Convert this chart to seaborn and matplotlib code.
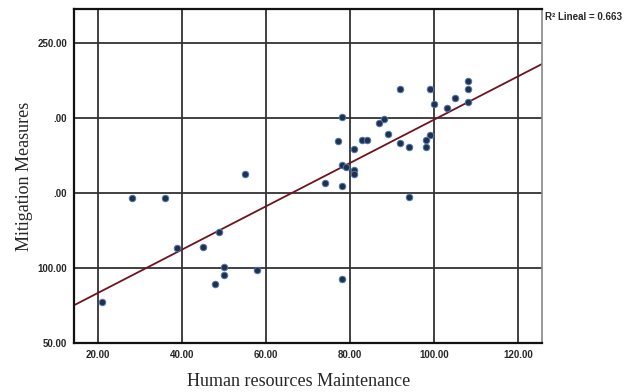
import numpy as np
import pandas as pd
import matplotlib
matplotlib.use("Agg")
import matplotlib.pyplot as plt
import seaborn as sns

# values
human_resources = [21.0, 28.1, 36.0, 39.0, 45.0, 49.0, 50.1, 50.1, 48.0, 58.0,
                   55.1, 92.0, 99.0, 108.2, 108.2, 105.1, 100.1, 103.1, 108.2,
                   78.1, 88.1, 87.0, 89.1, 77.1, 83.0, 84.1, 92.0, 99.0, 98.0,
                   94.0, 98.0, 81.1, 78.1, 79.1, 81.1, 81.1, 74.0, 78.1, 94.0,
                   78.1]
mitigation = [77.5, 146.7, 146.7, 113.5, 114.4, 124.4, 100.7, 95.5, 89.5, 98.7,
              162.7, 219.5, 219.5, 224.4, 219.5, 213.5, 209.3, 206.4, 210.7,
              200.4, 199.5, 196.4, 189.5, 184.4, 185.5, 185.5, 183.3, 188.7, 185.5,
              180.4, 180.4, 179.5, 168.7, 167.3, 165.5, 162.7, 156.4, 154.7, 147.3,
              92.7]

x_ticks = [20, 40, 60, 80, 100, 120]
x_labels = ["20.00", "40.00", "60.00", "80.00", "100.00", "120.00"]
y_ticks = [50, 100, 150, 200, 250]
y_labels = ["50.00", "100.00", ".00", ".00", "250.00"]

df = pd.DataFrame({"hr": human_resources, "mm": mitigation})

sns.set_style("white")
plt.rcParams["font.family"] = ["Liberation Sans", "DejaVu Sans"]

fig = plt.figure(figsize=(6.27, 3.92), dpi=100)
ax = fig.add_axes([0.118, 0.1242, 0.7464, 0.8528])
ax.set_xlim(14.4, 125.7)
ax.set_ylim(50, 272.5)

# grid first so the marks sit on top
for xt in x_ticks:
    ax.axvline(xt, color="#333333", lw=1.3, zorder=1)
for yt in y_ticks:
    ax.axhline(yt, color="#333333", lw=1.3, zorder=1)

sns.regplot(data=df, x="hr", y="mm", ax=ax, ci=None, truncate=False,
            scatter_kws=dict(s=22, color="#233048", edgecolor="#4a78b8",
                             linewidths=0.7, alpha=1, zorder=3),
            line_kws=dict(color="#6e1420", lw=1.3, zorder=2))

ax.set_xlim(14.4, 125.7)
ax.set_ylim(50, 272.5)
ax.set_xticks(x_ticks)
ax.set_xticklabels(x_labels, fontsize=7, fontweight="bold")
ax.set_yticks(y_ticks)
ax.set_yticklabels(y_labels, fontsize=7, fontweight="bold")
ax.tick_params(length=0, pad=5)

for side in ["left", "bottom", "top"]:
    ax.spines[side].set_color("#111111")
    ax.spines[side].set_linewidth(1.6)
ax.spines["right"].set_color("#888888")
ax.spines["right"].set_linewidth(1.2)

ax.set_xlabel("Human resources Maintenance", family="Liberation Serif",
              fontsize=13)
ax.set_ylabel("Mitigation Measures", family="Liberation Serif",
              fontsize=13)
ax.xaxis.set_label_coords(0.48, -0.113)
ax.yaxis.set_label_coords(-0.105, 0.5)
ax.xaxis.label.set_va("center")
ax.yaxis.label.set_va("center")

fig.text(0.869, 0.957, "R\u00b2 Lineal = 0.663", fontsize=7, fontweight="bold",
         va="center", ha="left")

fig.savefig("out.png", dpi=100)
